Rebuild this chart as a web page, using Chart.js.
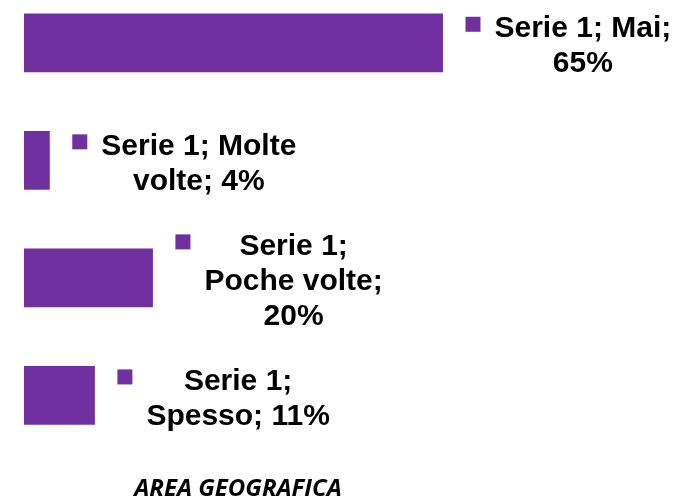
<!DOCTYPE html>
<html>
<head>
<meta charset="utf-8">
<script src="https://cdn.jsdelivr.net/npm/chart.js@4/dist/chart.umd.min.js"></script>
<style>
html,body{margin:0;padding:0;background:#fff;overflow:hidden;width:681px;height:498px;}
#wrap{position:relative;width:681px;height:498px;overflow:hidden;}
#c{position:absolute;left:0;top:-16px;}
</style>
</head>
<body>
<div id="wrap"><canvas id="c" width="681" height="524"></canvas></div>
<script>
const categories = ["Mai", "Molte volte", "Poche volte", "Spesso"];
const seriesName = "Serie 1";
const values = [65, 4, 20, 11];
const axisTitle = "AREA GEOGRAFICA";

const PURPLE = "#7030A0";
const LABEL_FONT = 'bold 30px "Liberation Sans"';
const TITLE_FAMILY = '"Open Sans"';
const WRAP = 200;
const LH = 35;

function wrapText(ctx, text, maxW) {
  const words = text.split(" ");
  const lines = [];
  let cur = "";
  for (const w of words) {
    const t = cur ? cur + " " + w : w;
    if (ctx.measureText(t).width <= maxW || !cur) cur = t;
    else { lines.push(cur); cur = w; }
  }
  if (cur) lines.push(cur);
  return lines;
}

const labelPlugin = {
  id: "barLabels",
  afterDatasetsDraw(chart) {
    const ctx = chart.ctx;
    const meta = chart.getDatasetMeta(0);
    ctx.save();
    ctx.font = LABEL_FONT;
    ctx.textAlign = "center";
    ctx.textBaseline = "middle";
    meta.data.forEach((bar, i) => {
      const text = seriesName + "; " + categories[i] + "; " + values[i] + "%";
      const lines = wrapText(ctx, text, WRAP);
      const widest = Math.max(...lines.map(l => ctx.measureText(l).width));
      const markerSize = 15;
      const markerX = bar.x + 22.5;
      const textLeft = markerX + markerSize + 14;
      const cx = textLeft + widest / 2;
      const top = bar.y + 3.5 - lines.length * LH / 2;
      ctx.fillStyle = "#000";
      lines.forEach((l, k) => ctx.fillText(l, cx, top + LH * (k + 0.5)));
      const firstY = top + LH / 2;
      ctx.fillStyle = PURPLE;
      ctx.fillRect(markerX, firstY - 4.5 - markerSize / 2, markerSize, markerSize);
    });
    ctx.restore();
  }
};

function draw() {
  new Chart(document.getElementById("c"), {
    type: "bar",
    data: {
      labels: categories,
      datasets: [{
        label: seriesName,
        data: values,
        backgroundColor: PURPLE,
        borderWidth: 0,
        categoryPercentage: 0.5,
        barPercentage: 1.0
      }]
    },
    options: {
      indexAxis: "y",
      responsive: false,
      animation: false,
      devicePixelRatio: 1,
      layout: { padding: { left: 24, right: 229, top: 0, bottom: 0 } },
      plugins: { legend: { display: false }, tooltip: { enabled: false } },
      scales: {
        x: {
          min: 0, max: 66.4,
          grid: { display: false },
          border: { display: false },
          ticks: { display: false },
          title: {
            display: true,
            text: axisTitle,
            color: "#000",
            font: { family: TITLE_FAMILY, size: 24, weight: "bold", style: "italic" },
            padding: { top: 13, bottom: 4 }
          }
        },
        y: { display: false }
      }
    },
    plugins: [labelPlugin]
  });
}

Promise.all([
  document.fonts.load(LABEL_FONT),
  document.fonts.load('italic bold 24px ' + TITLE_FAMILY)
]).then(draw, draw);
</script>
</body>
</html>
